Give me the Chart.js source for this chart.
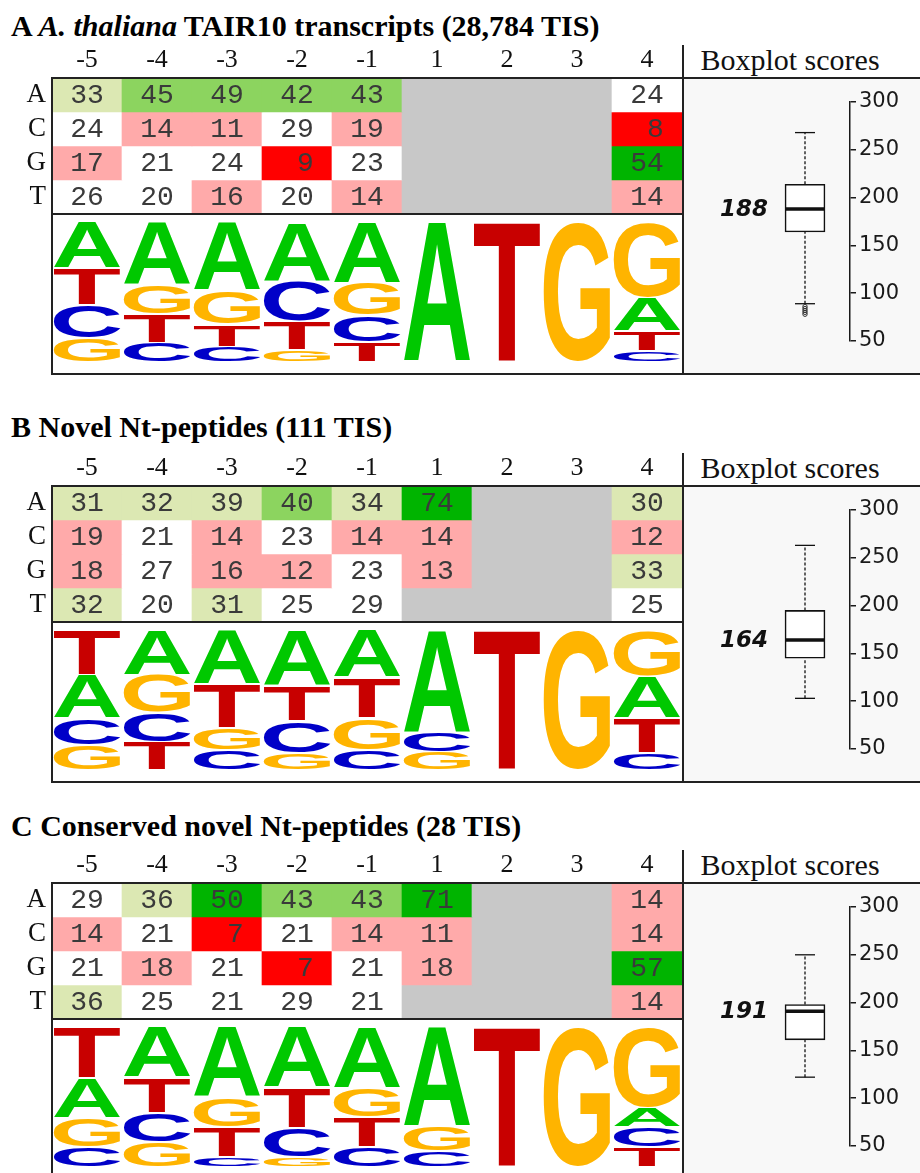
<!DOCTYPE html>
<html>
<head>
<meta charset="utf-8">
<script src="https://cdn.jsdelivr.net/npm/chart.js@4.4.0/dist/chart.umd.min.js"></script>
<style>
  html, body { margin: 0; padding: 0; background: #fff; }
  #fig { position: relative; width: 920px; height: 1173px; overflow: hidden; }
  .title { position: absolute; left: 11px; font: bold 30px "Liberation Serif", serif; line-height: 30px; color: #000; white-space: nowrap; }
  .bxh { position: absolute; left: 690px; width: 200px; text-align: center; font: 30px "Liberation Serif", serif; line-height: 30px; color: #111; white-space: nowrap; }
  .ln { position: absolute; background: #222; }
  canvas { position: absolute; }
</style>
</head>
<body>
<div id="fig"></div>
<script>
(function () {
  // ── data ──────────────────────────────────────────────────────────────────
  const COLS  = ['-5', '-4', '-3', '-2', '-1', '1', '2', '3', '4'];
  const BASES = ['A', 'C', 'G', 'T'];
  const START_CODON = ['A', 'T', 'G'];          // positions 1, 2, 3 (grey cells)

  // % of each nucleotide per position, null = grey (not scored)
  const TAIR_A = [33, 45, 49, 42, 43, null, null, null, 24];
  const TAIR_C = [24, 14, 11, 29, 19, null, null, null, 8];
  const TAIR_G = [17, 21, 24, 9, 23, null, null, null, 54];
  const TAIR_T = [26, 20, 16, 20, 14, null, null, null, 14];

  const NOVEL_A = [31, 32, 39, 40, 34, 74, null, null, 30];
  const NOVEL_C = [19, 21, 14, 23, 14, 14, null, null, 12];
  const NOVEL_G = [18, 27, 16, 12, 23, 13, null, null, 33];
  const NOVEL_T = [32, 20, 31, 25, 29, null, null, null, 25];

  const CONS_A = [29, 36, 50, 43, 43, 71, null, null, 14];
  const CONS_C = [14, 21, 7, 21, 14, 11, null, null, 14];
  const CONS_G = [21, 18, 21, 7, 21, 18, null, null, 57];
  const CONS_T = [36, 25, 21, 29, 21, null, null, null, 14];

  // boxplot: lower whisker, Q1, median, Q3, upper whisker
  const TAIR_BOX  = [89, 164, 188, 214, 268];
  const TAIR_OUT  = [86, 84, 82, 80, 78];
  const NOVEL_BOX = [103, 145, 164, 195, 263];
  const NOVEL_OUT = [];
  const CONS_BOX  = [122, 161, 191, 198, 250];
  const CONS_OUT  = [];

  const SCORE_TICKS = [50, 300, 50];            // min, max, step

  // ── layout ────────────────────────────────────────────────────────────────
  const LEFT = 52, COL_W = 70, ROW_H = 34, HEAD = 40, LOGO_H = 160;
  const TABLE_W = COL_W * COLS.length, TABLE_H = ROW_H * BASES.length;

  const PANELS = [
    { top: 78,  titleY: 26,  freq: [TAIR_A, TAIR_C, TAIR_G, TAIR_T],     box: TAIR_BOX,  out: TAIR_OUT,
      title: 'A <i>A. thaliana</i> TAIR10 transcripts (28,784 TIS)' },
    { top: 486, titleY: 427, freq: [NOVEL_A, NOVEL_C, NOVEL_G, NOVEL_T], box: NOVEL_BOX, out: NOVEL_OUT,
      title: 'B Novel Nt-peptides (111 TIS)' },
    { top: 883, titleY: 826, freq: [CONS_A, CONS_C, CONS_G, CONS_T],     box: CONS_BOX,  out: CONS_OUT,
      title: 'C Conserved novel Nt-peptides (28 TIS)' },
  ];

  const LOGO_COLORS = { A: '#00c800', C: '#0000c8', G: '#ffb400', T: '#c80000' };

  function cellColor(v) {
    if (v == null) return '#c8c8c8';
    if (v >= 50) return '#00b400';
    if (v >= 40) return '#8cd45f';
    if (v >= 30) return '#dce8b3';
    if (v >= 20) return '#ffffff';
    if (v >= 10) return '#ffaaaa';
    return '#ff0000';
  }

  const fig = document.getElementById('fig');

  function el(tag, cls, css, html) {
    const e = document.createElement(tag);
    if (cls) e.className = cls;
    Object.assign(e.style, css);
    if (html != null) e.innerHTML = html;
    fig.appendChild(e);
    return e;
  }

  function canvas(left, top, w, h, bg) {
    const c = el('canvas', '', { left: left + 'px', top: top + 'px', background: bg || 'transparent' });
    c.width = w; c.height = h;
    return c;
  }

  function line(left, top, w, h) {
    el('div', 'ln', { left: left + 'px', top: top + 'px', width: w + 'px', height: h + 'px' });
  }

  // ── plugins ───────────────────────────────────────────────────────────────
  const cellText = {
    id: 'cellText',
    afterDatasetsDraw(chart) {
      const ctx = chart.ctx;
      ctx.save();
      ctx.font = '28px "Liberation Mono"';
      ctx.fillStyle = '#3a3a3a';
      ctx.textAlign = 'center';
      ctx.textBaseline = 'middle';
      chart.data.datasets.forEach((ds, di) => {
        chart.getDatasetMeta(di).data.forEach((bar, i) => {
          const v = ds.values[i];
          if (v == null) return;
          ctx.fillText(String(v).padStart(2, ' '), bar.x, (bar.y + bar.base) / 2 + 1);
        });
      });
      ctx.restore();
    },
  };

  function drawGlyph(ctx, ch, x, y, w, h, color) {
    ctx.save();
    ctx.font = 'bold 200px "Liberation Sans"';
    const m = ctx.measureText(ch);
    const gw = m.actualBoundingBoxLeft + m.actualBoundingBoxRight;
    const gh = m.actualBoundingBoxAscent + m.actualBoundingBoxDescent;
    ctx.translate(x, y);
    ctx.scale(w / gw, h / gh);
    ctx.fillStyle = color;
    ctx.textAlign = 'left';
    ctx.textBaseline = 'alphabetic';
    ctx.fillText(ch, m.actualBoundingBoxLeft, m.actualBoundingBoxAscent);
    ctx.restore();
  }

  const glyphs = {
    id: 'glyphs',
    afterDatasetsDraw(chart) {
      chart.data.datasets.forEach((ds, di) => {
        const b = BASES[di];
        chart.getDatasetMeta(di).data.forEach((bar, i) => {
          if (!ds.data[i]) return;
          const top = Math.min(bar.y, bar.base) + 0.8;
          const h = Math.abs(bar.base - bar.y) - 1.6;
          if (h <= 0.5) return;
          drawGlyph(chart.ctx, b, bar.x - bar.width / 2, top, bar.width, h, LOGO_COLORS[b]);
        });
      });
    },
  };

  const medianLabel = {
    id: 'medianLabel',
    afterDraw(chart) {
      const med = chart.data.datasets[1].data[0].y;
      const ctx = chart.ctx;
      ctx.save();
      ctx.font = 'italic bold 23px "DejaVu Sans"';
      ctx.fillStyle = '#111';
      ctx.textAlign = 'right';
      ctx.textBaseline = 'middle';
      ctx.fillText(String(med), chart.scales.x.getPixelForValue(-20) - 17, chart.scales.y.getPixelForValue(med) + 1);
      ctx.restore();
    },
  };

  // stacked letter ranges (bottom-up, largest on top, ties alphabetical from top)
  function logoStacks(freq) {
    const out = BASES.map(() => COLS.map(() => null));
    COLS.forEach((label, c) => {
      let vals = freq.map(row => row[c]);
      if (vals.every(v => v == null)) {
        const fixed = START_CODON[Number(label) - 1];
        vals = BASES.map(b => (b === fixed ? 100 : 0));
      }
      vals = vals.map(v => v || 0);
      const total = vals.reduce((s, v) => s + v, 0);
      const order = BASES.map((_, i) => i).sort((i, j) => vals[i] - vals[j] || j - i);
      let acc = 0;
      order.forEach(i => {
        const h = vals[i] / total * 100;
        if (h > 0) out[i][c] = [acc, acc + h];
        acc += h;
      });
    });
    return out;
  }

  const baseOpts = {
    responsive: false,
    animation: false,
    devicePixelRatio: 1,
    plugins: { legend: { display: false }, tooltip: { enabled: false } },
  };

  // ── build panels ──────────────────────────────────────────────────────────
  PANELS.forEach(p => {
    const top = p.top;
    el('div', 'title', { top: (p.titleY - 15) + 'px' }, p.title);
    el('div', 'bxh', { top: (top - 18 - 15) + 'px' }, 'Boxplot scores');

    // heatmap table
    new Chart(canvas(0, top - HEAD, LEFT + TABLE_W, HEAD + TABLE_H), {
      type: 'bar',
      data: {
        labels: COLS,
        datasets: BASES.map((b, ri) => ({
          label: b,
          data: COLS.map(() => [ri, ri + 1]),
          values: p.freq[ri],
          backgroundColor: p.freq[ri].map(cellColor),
          borderWidth: 0,
          barPercentage: 1,
          categoryPercentage: 1,
          grouped: false,
        })),
      },
      options: {
        ...baseOpts,
        layout: { padding: 0 },
        scales: {
          x: {
            position: 'top',
            grid: { display: false, drawTicks: false },
            border: { display: false },
            ticks: { color: '#111', font: { family: 'Liberation Serif', size: 26 }, padding: 2, maxRotation: 0, autoSkip: false },
            afterFit: s => { s.height = HEAD; s.paddingLeft = 0; s.paddingRight = 0; },
          },
          y: {
            min: 0, max: BASES.length, reverse: true,
            grid: { display: false, drawTicks: false },
            border: { display: false },
            afterBuildTicks: s => { s.ticks = BASES.map((_, i) => ({ value: i + 0.5 })); },
            ticks: {
              callback: v => BASES[Math.floor(v)],
              color: '#111', font: { family: 'Liberation Serif', size: 27 }, padding: 6,
            },
            afterFit: s => { s.width = LEFT; s.paddingTop = 0; s.paddingBottom = 0; },
          },
        },
      },
      plugins: [cellText],
    });

    // sequence logo
    const stacks = logoStacks(p.freq);
    new Chart(canvas(LEFT, top + TABLE_H + 8, TABLE_W, 140), {
      type: 'bar',
      data: {
        labels: COLS,
        datasets: BASES.map((b, bi) => ({
          label: b,
          data: stacks[bi],
          backgroundColor: 'rgba(0,0,0,0)',
          borderWidth: 0,
          barPercentage: 0.95,
          categoryPercentage: 1,
          grouped: false,
        })),
      },
      options: {
        ...baseOpts,
        layout: { padding: 0 },
        scales: { x: { display: false }, y: { display: false, min: 0, max: 100 } },
      },
      plugins: [glyphs],
    });

    // boxplot
    const [lo, q1, med, q3, hi] = p.box;
    const thin = { borderColor: '#111', borderWidth: 1.3, pointRadius: 0, order: 3 };
    new Chart(canvas(683, top, 237, TABLE_H + LOGO_H, '#f8f8f8'), {
      type: 'bar',
      data: {
        datasets: [
          { type: 'bar', data: [{ x: 0, y: [q1, q3] }], backgroundColor: '#fff', borderColor: '#111',
            borderWidth: 1.6, borderSkipped: false, barThickness: 40, order: 2 },
          { type: 'line', data: [{ x: -20, y: med }, { x: 20, y: med }], borderColor: '#111', borderWidth: 3.5, pointRadius: 0, order: 0 },
          { type: 'line', data: [{ x: 0, y: q3 }, { x: 0, y: hi }], borderDash: [3, 2], ...thin },
          { type: 'line', data: [{ x: 0, y: lo }, { x: 0, y: q1 }], borderDash: [3, 2], ...thin },
          { type: 'line', data: [{ x: -10, y: hi }, { x: 10, y: hi }], ...thin },
          { type: 'line', data: [{ x: -10, y: lo }, { x: 10, y: lo }], ...thin },
          { type: 'line', data: p.out.map(v => ({ x: 0, y: v })), showLine: false, pointRadius: 2.2,
            pointBorderWidth: 1, pointBackgroundColor: 'rgba(0,0,0,0)', pointBorderColor: '#333', order: 1 },
        ],
      },
      options: {
        ...baseOpts,
        layout: { padding: { left: 77, top: 24, bottom: 33, right: 0 } },
        scales: {
          x: { type: 'linear', min: -45, max: 45, display: false, offset: false },
          y: {
            position: 'right', min: SCORE_TICKS[0], max: SCORE_TICKS[1],
            ticks: { stepSize: SCORE_TICKS[2], color: '#1a1a1a', font: { family: 'DejaVu Sans', size: 21 }, padding: 3 },
            grid: { drawOnChartArea: false, drawTicks: true, tickLength: 6, color: '#1a1a1a', lineWidth: 1.5 },
            border: { display: true, color: '#1a1a1a', width: 1.5 },
            afterFit: s => { s.width = 70; s.paddingTop = 0; s.paddingBottom = 0; },
          },
        },
      },
      plugins: [medianLabel],
    });

    // frame lines
    const full = TABLE_H + LOGO_H;
    line(51, top - 1, 869, 2);
    line(51, top + TABLE_H - 1, 632, 2);
    line(51, top + full - 1, 869, 2);
    line(51, top - 1, 2, full + 1);
    line(682, top - 33, 2, full + 33);
  });
})();
</script>
</body>
</html>
